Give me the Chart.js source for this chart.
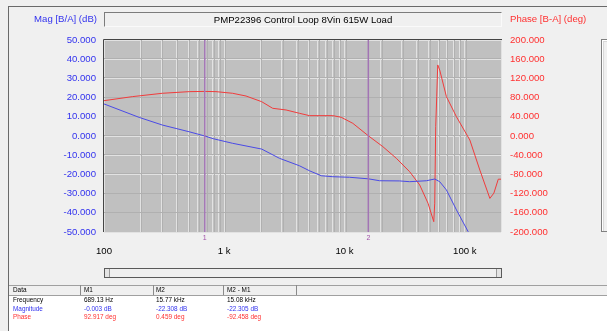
<!DOCTYPE html>
<html>
<head>
<meta charset="utf-8">
<script src="https://cdn.jsdelivr.net/npm/chart.js@4.4.0/dist/chart.umd.min.js"></script>
<style>
  body { margin: 0; background: #f0f0f0; font-family: "Liberation Sans", Arial, sans-serif; }
  #wrap { position: relative; width: 607px; height: 331px; overflow: hidden; background: #f0f0f0; }
  #bode { position: absolute; left: 0; top: 0; }
  #frame { position: absolute; left: 8px; top: 6px; width: 620px; height: 279px; border-left: 1px solid #6a6a6a; border-top: 1px solid #6a6a6a; }
  #titleBox { position: absolute; left: 104px; top: 12px; width: 396px; height: 13px; border-top: 1px solid #7c7c7c; border-left: 1px solid #7c7c7c; border-bottom: 1px solid #fafafa; border-right: 1px solid #fafafa; font-size: 9.6px; line-height: 13px; text-align: center; color: #000; }
  #magTitle { position: absolute; right: 510px; top: 13px; font-size: 9.6px; color: #3232ee; white-space: nowrap; }
  #phaseTitle { position: absolute; left: 510px; top: 13px; font-size: 9.6px; color: #ff3030; white-space: nowrap; }
  #sidePanel { position: absolute; left: 601px; top: 39px; width: 20px; height: 191px; border: 1px solid #808080; box-shadow: inset 1px 1px 0 #ffffff, inset 2px 2px 0 #d8d8d8; }
  #scroll { position: absolute; left: 104px; top: 268px; width: 396px; height: 8px; border: 1px solid #5a5a5a; background: #f0f0f0; }
  #scroll span { position: absolute; top: 0; width: 4px; height: 8px; background: #e4e4e4; border-right: 1px solid #9a9a9a; }
  #scroll .btnR { right: 0; border-right: none; border-left: 1px solid #9a9a9a; }
  #table { position: absolute; left: 8px; top: 285px; width: 620px; height: 60px; background: #ffffff; border-left: 1px solid #6a6a6a; font-size: 6.4px; }
  #table .head { position: absolute; left: 0; top: 0; width: 620px; height: 9px; background: #f0f0f0; border-top: 1px solid #a0a0a0; border-bottom: 1px solid #a0a0a0; }
  #table .sep { position: absolute; top: 0; width: 1px; height: 10px; background: #8a8a8a; }
  #table .cell { position: absolute; white-space: nowrap; line-height: 8px; }
</style>
</head>
<body>
<div id="wrap">
  <canvas id="bode" width="607" height="331"></canvas>
  <div id="frame"></div>
  <div id="titleBox">PMP22396 Control Loop 8Vin 615W Load</div>
  <div id="magTitle">Mag [B/A] (dB)</div>
  <div id="phaseTitle">Phase [B-A] (deg)</div>
  <div id="sidePanel"></div>
  <div id="scroll"><span class="btnL" style="left:0"></span><span class="btnR"></span></div>
  <div id="table"></div>
</div>
<script>
// magnitud (dB)
var magFreq = [100, 196, 306, 511, 689, 809, 1172, 2046, 2873, 4217, 5109, 6397, 7993, 11010, 15770, 19580, 28730, 34800, 47940, 56230, 61870, 70330, 85250, 106600, 112000];
var magDb   = [16.7, 9.7, 5.7, 2.2, 0.0, -1.4, -3.8, -6.8, -11.6, -15.5, -18.1, -20.7, -21.2, -21.5, -22.3, -23.3, -23.4, -23.8, -23.3, -22.4, -23.8, -28.1, -38.5, -49.8, -53];

// fase (deg)
var phaseFreq = [100, 172, 306, 511, 689, 853, 1172, 1517, 2046, 2528, 3266, 4217, 5109, 7993, 9380, 11720, 15770, 20830, 26960, 34800, 42170, 49440, 55200, 56230, 57300, 58420, 59570, 61870, 70330, 85250, 110100, 133400, 161600, 174500, 189800, 200000];
var phaseDeg  = [73.6, 82, 89, 92.4, 92.9, 92.4, 89, 83.3, 71.5, 57.7, 54.2, 47.3, 42.4, 42.4, 39, 26.4, 0.5, -22.2, -46.5, -74.4, -102, -140, -178.5, -140, 19.4, 81.9, 148, 137.5, 82, 40, -8.3, -71, -130, -119, -90, -90];

// marcadores M1 / M2
var markerFreq  = [689.13, 15770];
var markerNames = ["1", "2"];

var xTickText = {100: "100", 1000: "1 k", 10000: "10 k", 100000: "100 k"};

// tabla de datos de los marcadores
var tableRows  = ["Frequency", "Magnitude", "Phase"];
var rowColors  = ["#000000", "#3232ee", "#ff3030"];
var colHeads   = ["Data", "M1", "M2", "M2 - M1"];
var colM1      = ["689.13 Hz", "-0.003 dB", "92.917 deg"];
var colM2      = ["15.77 kHz", "-22.308 dB", "0.459 deg"];
var colDelta   = ["15.08 kHz", "-22.305 dB", "-92.458 deg"];

var colX = [4, 75, 147, 218];
var sepX = [71, 144, 214, 287];

let htmlTable = "<div class='head'></div>";
for (let i = 0; i < sepX.length; i++) {
    htmlTable += "<div class='sep' style='left:" + sepX[i] + "px'></div>";
}
for (let i = 0; i < colHeads.length; i++) {
    htmlTable += "<div class='cell' style='left:" + colX[i] + "px;top:1px'>" + colHeads[i] + "</div>";
}
for (let r = 0; r < tableRows.length; r++) {
    let top = 11 + r * 8.6;
    let cells = [tableRows[r], colM1[r], colM2[r], colDelta[r]];
    for (let c = 0; c < cells.length; c++) {
        htmlTable += "<div class='cell' style='left:" + colX[c] + "px;top:" + top + "px;color:" + rowColors[r] + "'>" + cells[c] + "</div>";
    }
}
document.getElementById("table").innerHTML = htmlTable;

function toPoints(xs, ys) {
    return xs.map((x, i) => ({x: x, y: ys[i]}));
}

var markerSets = markerFreq.map(f => ({
    data: [{x: f, y: -50}, {x: f, y: 50}],
    yAxisID: "y",
    borderColor: "#a274b4",
    borderWidth: 1.5,
    pointRadius: 0
}));

// fondo gris, sombra de la grilla, borde y etiquetas de marcadores
const bodeChrome = {
    id: "bodeChrome",
    beforeDraw(chart) {
        const {ctx, chartArea: a} = chart;
        ctx.save();
        ctx.fillStyle = "#c0c0c0";
        ctx.fillRect(a.left, a.top, a.right - a.left, a.bottom - a.top);
        ctx.restore();
    },
    beforeDatasetsDraw(chart) {
        const {ctx, chartArea: a, scales} = chart;
        ctx.save();
        ctx.strokeStyle = "#b0b0b0";
        ctx.lineWidth = 1;
        ctx.beginPath();
        for (const t of scales.x.ticks) {
            let px = Math.round(scales.x.getPixelForValue(t.value)) + 1.5;
            if (px <= a.left + 2 || px >= a.right) continue;
            ctx.moveTo(px, a.top);
            ctx.lineTo(px, a.bottom);
        }
        for (const t of scales.y.ticks) {
            let py = Math.round(scales.y.getPixelForValue(t.value)) - 0.5;
            if (py <= a.top + 2 || py >= a.bottom - 1) continue;
            ctx.moveTo(a.left, py);
            ctx.lineTo(a.right, py);
        }
        ctx.stroke();
        ctx.restore();
    },
    afterDraw(chart) {
        const {ctx, chartArea: a, scales} = chart;
        ctx.save();
        ctx.strokeStyle = "#454545";
        ctx.lineWidth = 1;
        ctx.beginPath();
        ctx.moveTo(a.left - 0.5, a.bottom);
        ctx.lineTo(a.left - 0.5, a.top - 0.5);
        ctx.lineTo(a.right + 1, a.top - 0.5);
        ctx.stroke();
        ctx.fillStyle = "#a050a8";
        ctx.font = "7px 'Liberation Sans', Arial, sans-serif";
        ctx.textAlign = "center";
        ctx.textBaseline = "middle";
        for (let i = 0; i < markerFreq.length; i++) {
            ctx.fillText(markerNames[i], scales.x.getPixelForValue(markerFreq[i]), a.bottom + 6);
        }
        ctx.restore();
    }
};

var ctx = document.getElementById("bode");
var bodeChart = new Chart(ctx, {
    type: "line",
    data: {
        datasets: markerSets.concat([
            {
                label: "Magnitude",
                data: toPoints(magFreq, magDb),
                yAxisID: "y",
                borderColor: "#4a4ae6",
                borderWidth: 1,
                pointRadius: 0,
                tension: 0
            },
            {
                label: "Phase",
                data: toPoints(phaseFreq, phaseDeg),
                yAxisID: "y1",
                borderColor: "#f03c3c",
                borderWidth: 1,
                pointRadius: 0,
                tension: 0
            }
        ])
    },
    options: {
        responsive: false,
        animation: false,
        layout: {padding: {top: 40, left: 0, right: 0, bottom: 0}},
        plugins: {legend: {display: false}, tooltip: {enabled: false}},
        scales: {
            x: {
                type: "logarithmic",
                min: 100,
                max: 200000,
                afterBuildTicks: (axis) => {
                    const vals = [];
                    for (const d of [100, 1000, 10000, 100000]) {
                        for (let m = 1; m <= 9; m++) {
                            if (m * d <= 200000) vals.push({value: m * d});
                        }
                    }
                    axis.ticks = vals;
                },
                afterFit: (axis) => { axis.height = 99; },
                grid: {color: "#e2e2e2", lineWidth: 1, drawTicks: false},
                border: {display: false},
                ticks: {
                    autoSkip: false,
                    maxRotation: 0,
                    padding: 14,
                    color: "#000000",
                    font: {family: "'Liberation Sans', Arial, sans-serif", size: 9.6},
                    callback: (v) => xTickText[v] || ""
                }
            },
            y: {
                position: "left",
                min: -50,
                max: 50,
                afterFit: (axis) => { axis.width = 104; },
                grid: {color: "#e2e2e2", lineWidth: 1, drawTicks: false},
                border: {display: false},
                ticks: {
                    stepSize: 10,
                    padding: 8,
                    color: "#3232ee",
                    font: {family: "'Liberation Sans', Arial, sans-serif", size: 9.6},
                    callback: (v) => v.toFixed(3)
                }
            },
            y1: {
                position: "right",
                min: -200,
                max: 200,
                afterFit: (axis) => { axis.width = 106; },
                grid: {display: false, drawTicks: false},
                border: {display: false},
                ticks: {
                    stepSize: 40,
                    padding: 9,
                    color: "#ff3030",
                    font: {family: "'Liberation Sans', Arial, sans-serif", size: 9.6},
                    callback: (v) => v.toFixed(3)
                }
            }
        }
    },
    plugins: [bodeChrome]
});
</script>
</body>
</html>
